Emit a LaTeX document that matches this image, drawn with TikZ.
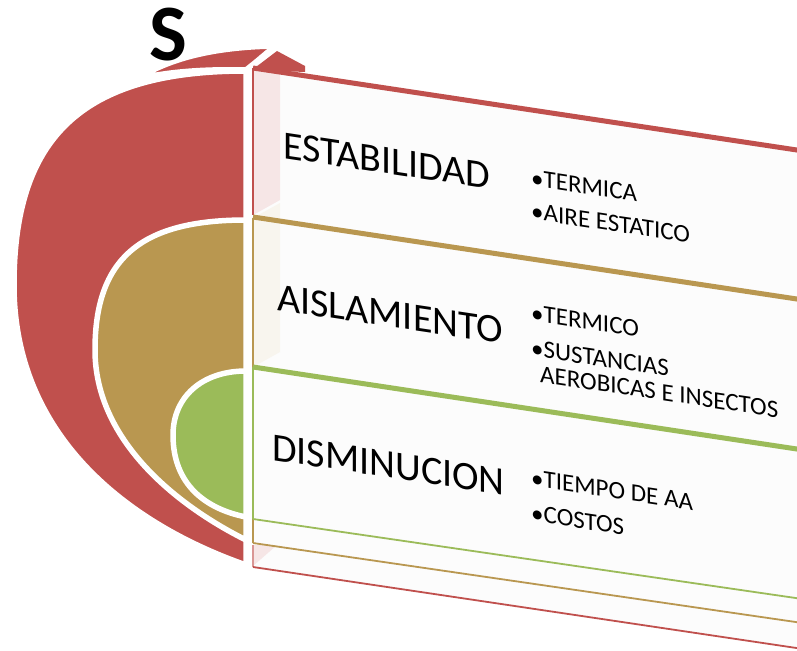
\documentclass[tikz,border=0pt]{standalone}
\usepackage{fontspec}
\setmainfont{Carlito}
\definecolor{cred}{HTML}{C0504D}
\definecolor{cgold}{HTML}{B99750}
\definecolor{cgreen}{HTML}{9BBB59}
\definecolor{cpink}{HTML}{F6E6E6}
\definecolor{cbeige}{HTML}{F8F5EE}
\definecolor{cpanel}{HTML}{FCFCFC}
\begin{document}
\begin{tikzpicture}[x=1pt,y=-1pt,
  disk/.style={draw=white,line width=5.5pt,line join=round},
  thick edge/.style={line width=5pt},
  thin edge/.style={line width=1.8pt},
  side edge/.style={line width=1.1pt},
  big/.style={font=\fontsize{40}{44}\selectfont,anchor=base west,inner sep=0pt,yslant=-0.15},
  small/.style={font=\fontsize{25}{28}\selectfont,anchor=base west,inner sep=0pt,yslant=-0.15}]
\useasboundingbox (0,0) rectangle (797,650);
\clip (0,0) rectangle (797,650);
% box panels
\fill[cpanel] (253,68) -- (830,155) -- (830,653) -- (253,567) -- cycle;
\fill[cpink] (253,68) -- (280,52) -- (280,200) -- (253,215) -- cycle;
\fill[cbeige] (253,218) -- (280,203) -- (280,352) -- (253,367) -- cycle;
\fill[cpink] (253,545) -- (277,545) -- (253,566) -- cycle;
% disks
\filldraw[disk,fill=cred] (246,71) .. controls (80,71) and (14,139) .. (14,285)
  .. controls (14,435) and (126,523) .. (246,565) -- cycle;
\filldraw[disk,fill=cred] (137,79) .. controls (170,58) and (215,47) .. (275,46) -- (256,62) -- (246,70) .. controls (210,69) and (170,71) .. cycle;
\fill[cred] (256,67) -- (277,51) -- (305,66) -- (305,72) -- (256,70) -- cycle;
\filldraw[disk,fill=cgold] (246,220) .. controls (140,220) and (95,259) .. (95,350)
  .. controls (95,440) and (176,505) .. (246,540) -- cycle;
\filldraw[disk,fill=cgreen] (246,371) .. controls (202,371) and (173,397) .. (173,435)
  .. controls (173,485) and (206,509) .. (246,517) -- cycle;
% vertical edges
\draw[side edge,cred] (253,68) -- (253,215);
\draw[side edge,cgold] (253,218) -- (253,367);
\draw[side edge,cgreen] (253,367) -- (253,519);
\draw[side edge,cgold] (253,519) -- (253,543);
\draw[side edge,cred!60] (253,545) -- (253,567);
% top edges
\draw[thick edge,cred] (253,68) -- (830,155);
\draw[thick edge,cgold] (253,217) -- (830,304);
\draw[thick edge,cgreen] (253,367) -- (830,454);
% bottom edges
\draw[thin edge,cgreen] (253,519) -- (830,603);
\draw[thin edge,cgold] (253,543) -- (830,627);
\draw[thin edge,cred] (253,567) -- (830,653);
% texts
\node[font=\fontsize{80}{84}\selectfont\bfseries,inner sep=0pt,anchor=base] (s) at (168,61) {S};
\node[big] (t1) at (283,158) {ESTABILIDAD};
\node[big] (t2) at (277,310) {AISLAMIENTO};
\node[big] (t3) at (272,460) {DISMINUCION};
\node[small] (b1) at (531,186) {•TERMICA};
\node[small] (b2) at (531,219) {•AIRE ESTATICO};
\node[small] (b3) at (531,321) {•TERMICO};
\node[small] (b4) at (531,356) {•SUSTANCIAS};
\node[small] (b5) at (540,382) {AEROBICAS E INSECTOS};
\node[small] (b6) at (531,486) {•TIEMPO DE AA};
\node[small] (b7) at (531,521) {•COSTOS};
\end{tikzpicture}
\end{document}
